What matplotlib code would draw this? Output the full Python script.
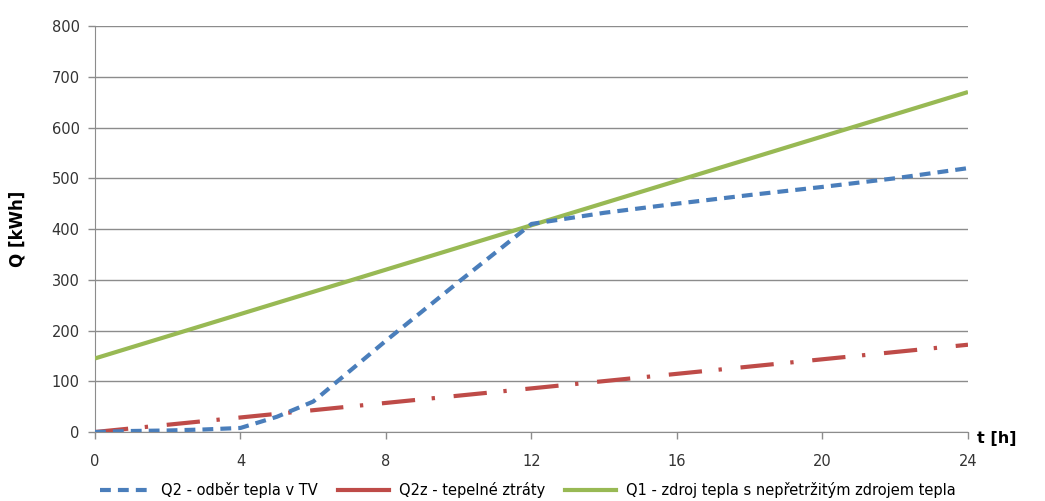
import matplotlib
matplotlib.use("Agg")
import matplotlib.pyplot as plt
from matplotlib.lines import Line2D

plt.rcParams['font.family'] = ['DejaVu Sans']

# time axis [h]
hours = [0, 1, 2, 3, 4, 5, 6, 7, 8, 9, 10, 11, 12, 14, 16, 18, 20, 22, 24]
# Q2 - heat drawn off in hot water [kWh]
q2 = [0, 2, 3, 5, 8, 30, 60, 120, 180, 238, 296, 353, 410, 432, 450, 467, 483, 500, 520]

# Q2z - heat losses [kWh]
loss_hours = [0, 24]
q2z = [0, 172]

# Q1 - continuous heat source [kWh]
src_hours = [0, 24]
q1 = [145, 670]

labels = ["Q2 - odběr tepla v TV", "Q2z - tepelné ztráty",
          "Q1 - zdroj tepla s nepřetržitým zdrojem tepla"]
x_ticks = [0, 4, 8, 12, 16, 20, 24]
y_ticks = [0, 100, 200, 300, 400, 500, 600, 700, 800]

blue = "#4A7EBB"
red = "#BE4B48"
green = "#98B954"
grid_c = "#8C8C8C"
blue_dash = (2.6, 1.7)
red_dash = (8, 4, 0.8, 4.5)

fig = plt.figure(figsize=(10.45, 5.01), dpi=100)
ax = fig.add_axes([0.0909, 0.1377, 0.8354, 0.8103])

ax.plot(src_hours, q1, color=green, lw=3.0, solid_capstyle='butt', zorder=3)
ax.plot(loss_hours, q2z, color=red, lw=3.0, dashes=red_dash, zorder=3)
ax.plot(hours, q2, color=blue, lw=3.0, dashes=blue_dash, zorder=4)

ax.set_xlim(0, 24)
ax.set_ylim(0, 800)
ax.set_xticks(x_ticks)
ax.set_yticks(y_ticks)
ax.yaxis.grid(True, color=grid_c, lw=1.0)
ax.set_axisbelow(True)
for s in ("top", "right"):
    ax.spines[s].set_visible(False)
ax.spines["left"].set_color(grid_c)
ax.spines["bottom"].set_color(grid_c)
ax.tick_params(axis='both', colors=grid_c, labelcolor="#333333",
               labelsize=10.5, length=5, width=1)
ax.tick_params(axis='y', pad=6)
ax.tick_params(axis='x', pad=11)

ax.set_ylabel("Q [kWh]", fontsize=12, fontweight='bold', labelpad=18)
ax.text(1.01, -0.015, "t [h]", transform=ax.transAxes, fontsize=11.5,
        fontweight='bold', ha='left', va='center')

handles = [Line2D([], [], color=blue, lw=3.0, dashes=blue_dash),
           Line2D([], [], color=red, lw=3.0),
           Line2D([], [], color=green, lw=3.0)]
fig.legend(handles, labels, loc='lower left', bbox_to_anchor=(0.083, -0.021),
           ncol=3, frameon=False, fontsize=10.5, handlelength=3.5,
           columnspacing=1.35, handletextpad=0.7)

fig.savefig("out.png", dpi=100)
